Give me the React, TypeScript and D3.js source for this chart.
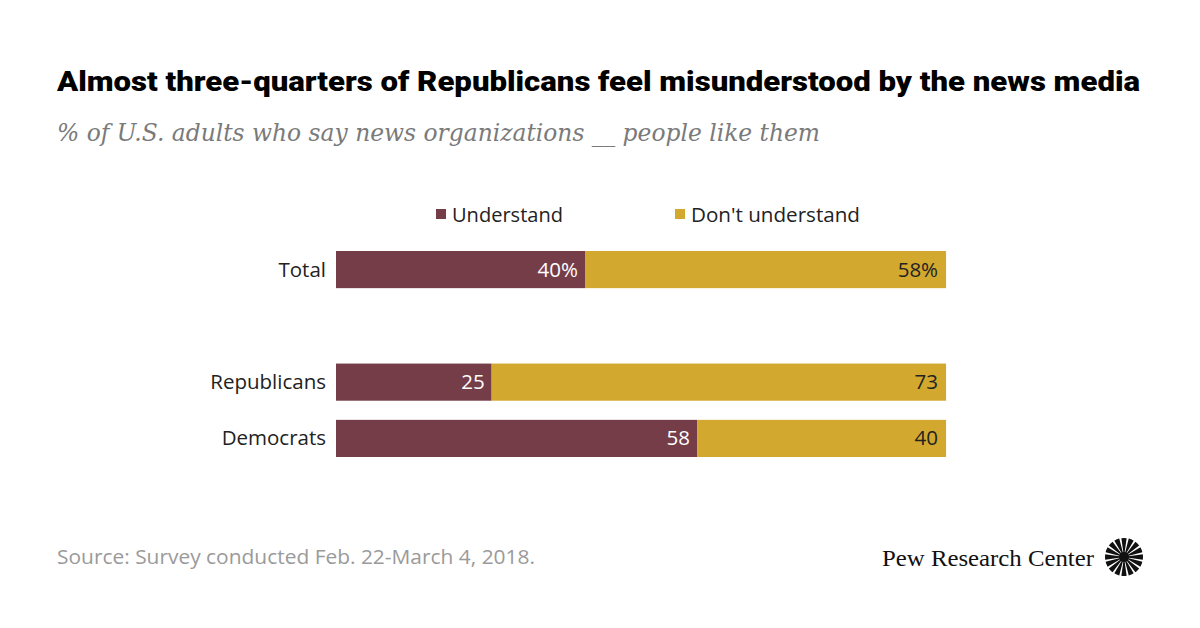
import React from "react";
import * as d3 from "d3";

const categories = ["Total", "", "Republicans", "Democrats"];
const understand = [40, null, 25, 58];
const dontUnderstand = [58, null, 73, 40];
const valueLabelsU = ["40%", "", "25", "58"];
const valueLabelsD = ["58%", "", "73", "40"];
const seriesNames = ["Understand", "Don't understand"];
const colors = ["#743d48", "#d2a82f"];

const W = 1200;
const H = 628;

export default function App() {
  const x = d3.scaleLinear().domain([0, 100]).range([336, 958.5]);
  const y = d3.scaleBand<string>().domain(categories.map((c, i) => c || "gap" + i)).range([251, 457]).paddingInner(0.34).paddingOuter(0);
  const bw = y.bandwidth();

  const sans = "'Open Sans', Roboto, sans-serif";
  const fs = 20.5;

  const n = 16;
  const wedge = d3.arc<any>();
  const rays = d3.range(n).map((i) => {
    const a = (i / n) * Math.PI * 2;
    return wedge({ innerRadius: 3, outerRadius: 19, startAngle: a - 0.14, endAngle: a + 0.14 }) as string;
  });

  return (
    <svg width={W} height={H} style={{ position: "absolute", left: 0, top: 0, background: "#fff" }}>
      <rect x={0} y={0} width={W} height={H} fill="#fff" />
      <text x={57} y={91} fontFamily="Roboto, 'DejaVu Sans', sans-serif" fontWeight={900} fontSize={28} fill="#000" textLength={1083} lengthAdjust="spacingAndGlyphs">
        Almost three-quarters of Republicans feel misunderstood by the news media
      </text>
      <text x={57} y={141} fontFamily="'DejaVu Serif', 'Liberation Serif', serif" fontStyle="italic" fontSize={24} fill="#7a7a7a" textLength={763} lengthAdjust="spacingAndGlyphs">
        % of U.S. adults who say news organizations __ people like them
      </text>

      {/* Legend */}
      <rect x={436} y={209} width={10} height={10} fill={colors[0]} />
      <text x={452} y={222} fontFamily={sans} fontSize={fs} fill="#222" textLength={111} lengthAdjust="spacingAndGlyphs">{seriesNames[0]}</text>
      <rect x={675} y={209} width={10} height={10} fill={colors[1]} />
      <text x={691} y={222} fontFamily={sans} fontSize={fs} fill="#222" textLength={169} lengthAdjust="spacingAndGlyphs">{seriesNames[1]}</text>

      {categories.map((c, i) => {
        if (!c) return null;
        const key = c;
        const y0 = y(key)!;
        const u = understand[i] as number;
        const d = dontUnderstand[i] as number;
        return (
          <g key={c}>
            <text x={326} y={y0 + bw / 2 + 7} textAnchor="end" fontFamily={sans} fontSize={fs} fill="#222">{c}</text>
            <rect x={x(0)} y={y0} width={x(u) - x(0)} height={bw} fill={colors[0]} />
            <rect x={x(u)} y={y0} width={x(u + d) - x(u)} height={bw} fill={colors[1]} />
            <text x={x(u) - 7} y={y0 + bw / 2 + 7} textAnchor="end" fontFamily={sans} fontSize={fs} fill="#fff">{valueLabelsU[i]}</text>
            <text x={x(u + d) - 8} y={y0 + bw / 2 + 7} textAnchor="end" fontFamily={sans} fontSize={fs} fill="#222">{valueLabelsD[i]}</text>
          </g>
        );
      })}

      <text x={57} y={564} fontFamily={sans} fontSize={fs} fill="#9a9a9a" textLength={478} lengthAdjust="spacingAndGlyphs">Source: Survey conducted Feb. 22-March 4, 2018.</text>

      <text x={882} y={566} fontFamily="'Liberation Serif', 'DejaVu Serif', serif" fontSize={23} fill="#111" textLength={212} lengthAdjust="spacingAndGlyphs">Pew Research Center</text>
      <g transform="translate(1124,557)">
        {rays.map((p, i) => (
          <path key={i} d={p} fill="#111" />
        ))}
        <circle r={5} fill="#111" />
      </g>
    </svg>
  );
}
